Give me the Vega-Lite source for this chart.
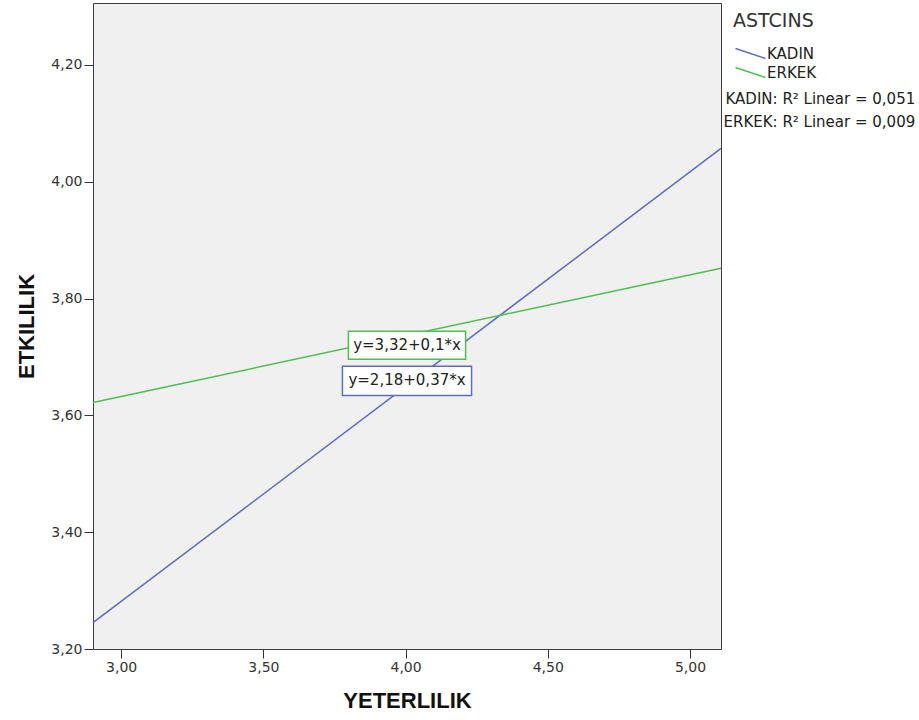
{
  "$schema": "https://vega.github.io/schema/vega-lite/v6.json",
  "width": 628,
  "height": 646,
  "autosize": "none",
  "padding": {"left": 93, "top": 3, "right": 198, "bottom": 71},
  "background": "white",
  "config": {
    "view": {"fill": "#f0f0f0", "stroke": "#3c3c3c", "strokeWidth": 1},
    "font": "DejaVu Sans",
    "axis": {
      "grid": false,
      "domain": false,
      "tickSize": 9,
      "tickColor": "#333333",
      "labelFont": "DejaVu Sans",
      "labelFontSize": 14,
      "labelColor": "#333333",
      "labelPadding": 2,
      "titleFont": "Liberation Sans",
      "titleFontSize": 22,
      "titleFontWeight": "bold",
      "titleColor": "#111111"
    }
  },
  "datasets": {
    "lines": [
      {"ASTCINS": "KADIN", "YETERLILIK": 2.901, "ETKILILIK": 3.245},
      {"ASTCINS": "KADIN", "YETERLILIK": 5.109, "ETKILILIK": 4.057},
      {"ASTCINS": "ERKEK", "YETERLILIK": 2.901, "ETKILILIK": 3.622},
      {"ASTCINS": "ERKEK", "YETERLILIK": 5.109, "ETKILILIK": 3.852}
    ],
    "fits": [
      {"ASTCINS": "KADIN", "equation": "y=2,18+0,37*x", "r2": "KADIN: R² Linear = 0,051"},
      {"ASTCINS": "ERKEK", "equation": "y=3,32+0,1*x", "r2": "ERKEK: R² Linear = 0,009"}
    ]
  },
  "layer": [
    {
      "data": {"name": "lines"},
      "mark": {"type": "line", "strokeWidth": 1.5},
      "encoding": {
        "x": {
          "field": "YETERLILIK", "type": "quantitative",
          "scale": {"domain": [2.901, 5.109], "nice": false, "zero": false},
          "axis": {"values": [3, 3.5, 4, 4.5, 5], "labelExpr": "replace(format(datum.value, '.2f'), '.', ',')", "title": "YETERLILIK", "titlePadding": 16}
        },
        "y": {
          "field": "ETKILILIK", "type": "quantitative",
          "scale": {"domain": [3.2, 4.306], "nice": false, "zero": false},
          "axis": {"values": [3.2, 3.4, 3.6, 3.8, 4.0, 4.2], "labelExpr": "replace(format(datum.value, '.2f'), '.', ',')", "title": "ETKILILIK", "titlePadding": 12}
        },
        "color": {
          "field": "ASTCINS", "type": "nominal",
          "scale": {"domain": ["KADIN", "ERKEK"], "range": ["#5b6dbf", "#4dbf4d"]},
          "legend": {
            "orient": "none",
            "legendX": 640,
            "legendY": 9,
            "title": "ASTCINS",
            "titleFont": "DejaVu Sans",
            "titleFontSize": 19,
            "titleFontWeight": "normal",
            "titleColor": "#333333",
            "titlePadding": 15,
            "symbolType": "M-1,-1L5,1",
            "symbolSize": 100,
            "symbolStrokeWidth": 1.5,
            "labelFont": "DejaVu Sans",
            "labelFontSize": 15,
            "labelColor": "#222222",
            "labelOffset": 19,
            "rowPadding": 2
          }
        }
      }
    },
    {
      "data": {"name": "fits"},
      "transform": [{"filter": "datum.ASTCINS == 'ERKEK'"}],
      "mark": {"type": "rect", "fill": "white", "stroke": "#4dbf4d", "strokeWidth": 1.5},
      "encoding": {
        "x": {"datum": 3.799}, "x2": {"datum": 4.211},
        "y": {"datum": 3.744}, "y2": {"datum": 3.696}
      }
    },
    {
      "data": {"name": "fits"},
      "transform": [{"filter": "datum.ASTCINS == 'ERKEK'"}],
      "mark": {"type": "text", "fontSize": 15, "color": "#222222", "font": "DejaVu Sans"},
      "encoding": {
        "x": {"datum": 4.005}, "y": {"datum": 3.720},
        "text": {"field": "equation"}
      }
    },
    {
      "data": {"name": "fits"},
      "transform": [{"filter": "datum.ASTCINS == 'KADIN'"}],
      "mark": {"type": "rect", "fill": "white", "stroke": "#5b6dbf", "strokeWidth": 1.5},
      "encoding": {
        "x": {"datum": 3.778}, "x2": {"datum": 4.232},
        "y": {"datum": 3.684}, "y2": {"datum": 3.634}
      }
    },
    {
      "data": {"name": "fits"},
      "transform": [{"filter": "datum.ASTCINS == 'KADIN'"}],
      "mark": {"type": "text", "fontSize": 15, "color": "#222222", "font": "DejaVu Sans"},
      "encoding": {
        "x": {"datum": 4.005}, "y": {"datum": 3.660},
        "text": {"field": "equation"}
      }
    },
    {
      "data": {"name": "fits"},
      "transform": [{"filter": "datum.ASTCINS == 'KADIN'"}],
      "mark": {"type": "text", "fontSize": 15, "color": "#222222", "font": "DejaVu Sans", "align": "right"},
      "encoding": {
        "x": {"datum": 5.792}, "y": {"datum": 4.141},
        "text": {"field": "r2"}
      }
    },
    {
      "data": {"name": "fits"},
      "transform": [{"filter": "datum.ASTCINS == 'ERKEK'"}],
      "mark": {"type": "text", "fontSize": 15, "color": "#222222", "font": "DejaVu Sans", "align": "right"},
      "encoding": {
        "x": {"datum": 5.792}, "y": {"datum": 4.103},
        "text": {"field": "r2"}
      }
    }
  ]
}
